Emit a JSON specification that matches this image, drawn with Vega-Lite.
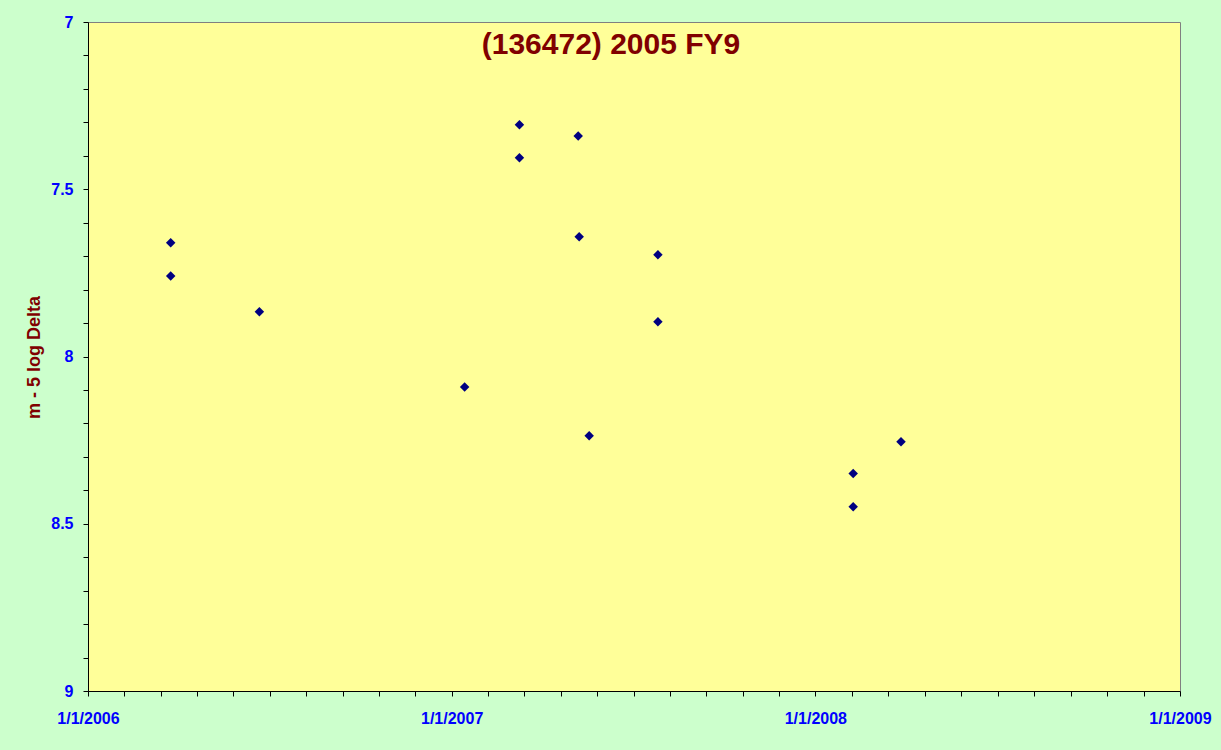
{
  "$schema": "https://vega.github.io/schema/vega-lite/v6.json",
  "width": 1092,
  "height": 669,
  "autosize": {"type": "none"},
  "padding": {"left": 88, "top": 22, "right": 41, "bottom": 59},
  "background": "#CCFFCC",
  "title": {
    "text": "(136472) 2005 FY9",
    "font": "Liberation Sans",
    "fontSize": 30,
    "fontWeight": "bold",
    "color": "#800000",
    "anchor": "middle",
    "frame": "group",
    "baseline": "alphabetic",
    "offset": -70,
    "dx": -23
  },
  "config": {
    "view": {"fill": "#FFFF99", "stroke": "#808080", "strokeWidth": 1},
    "axis": {
      "grid": false,
      "domainColor": "#000000",
      "domainWidth": 1,
      "tickColor": "#000000",
      "tickSize": 5,
      "tickWidth": 1,
      "labelFont": "Liberation Sans",
      "labelFontSize": 16,
      "labelFontWeight": "bold",
      "labelColor": "#0000FF",
      "labelOverlap": false,
      "labelFlush": false,
      "labelBound": false
    }
  },
  "data": {
    "values": [
      {"date": "2006-03-25", "mag": 7.660},
      {"date": "2006-03-25", "mag": 7.759},
      {"date": "2006-06-22", "mag": 7.866},
      {"date": "2007-01-14", "mag": 8.091},
      {"date": "2007-03-10", "mag": 7.307},
      {"date": "2007-03-10", "mag": 7.406},
      {"date": "2007-05-08", "mag": 7.341},
      {"date": "2007-05-09", "mag": 7.642},
      {"date": "2007-05-19", "mag": 8.237},
      {"date": "2007-07-27", "mag": 7.696},
      {"date": "2007-07-27", "mag": 7.896},
      {"date": "2008-02-08", "mag": 8.350},
      {"date": "2008-02-08", "mag": 8.449},
      {"date": "2008-03-27", "mag": 8.255}
    ]
  },
  "mark": {"type": "point", "shape": "diamond", "filled": true, "size": 90, "color": "#000080", "opacity": 1},
  "encoding": {
    "x": {
      "field": "date",
      "type": "temporal",
      "scale": {"type": "utc", "domain": [1136073600000, 1230768000000], "nice": false},
      "axis": {
        "title": null,
        "values": [1136073600000, 1139227200000, 1142380800000, 1145534400000, 1148688000000, 1151841600000, 1154995200000, 1158148800000, 1161302400000, 1164456000000,
                   1167609600000, 1170763200000, 1173916800000, 1177070400000, 1180224000000, 1183377600000, 1186531200000, 1189684800000, 1192838400000, 1195992000000,
                   1199145600000, 1202307840000, 1205470080000, 1208632320000, 1211794560000, 1214956800000, 1218119040000, 1221281280000, 1224443520000, 1227605760000,
                   1230768000000],
        "labelExpr": "utcmonth(datum.value) == 0 && utcdate(datum.value) == 1 && utchours(datum.value) == 0 ? utcFormat(datum.value, '%-m/%-d/%Y') : ''",
        "labelPadding": 14
      }
    },
    "y": {
      "field": "mag",
      "type": "quantitative",
      "scale": {"domain": [7, 9], "reverse": true, "nice": false, "zero": false},
      "axis": {
        "values": [7, 7.1, 7.2, 7.3, 7.4, 7.5, 7.6, 7.7, 7.8, 7.9, 8, 8.1, 8.2, 8.3, 8.4, 8.5, 8.6, 8.7, 8.8, 8.9, 9],
        "format": ".1~f",
        "labelExpr": "abs(datum.value * 2 - round(datum.value * 2)) < 0.001 ? datum.label : ''",
        "labelPadding": 10,
        "title": "m - 5 log Delta",
        "titleColor": "#800000",
        "titleFont": "Liberation Sans",
        "titleFontSize": 18,
        "titleFontWeight": "bold",
        "titleAngle": -90,
        "titleAlign": "center",
        "titleBaseline": "middle",
        "titleX": -54,
        "titleY": 335
      }
    }
  }
}
